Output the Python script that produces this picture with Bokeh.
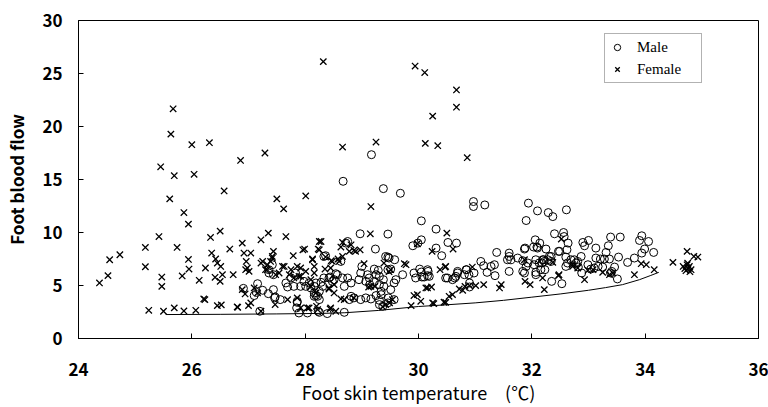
from bokeh.plotting import figure
from bokeh.models import Legend, LegendItem, FixedTicker
from bokeh.embed import file_html
from bokeh.resources import INLINE

# ---- data ----
male_x = [29.17, 28.67, 29.38, 29.68, 30.97, 30.97, 31.17, 31.94, 32.10, 31.90, 30.05, 30.31, 28.97, 29.46,
          29.24, 29.90, 29.99, 30.05, 30.52, 30.67, 30.31, 30.41, 31.38, 31.60, 31.60, 31.88, 32.06, 32.09,
          28.33, 28.75, 28.63, 29.00, 29.46, 29.58, 29.46, 29.51, 29.92, 30.05, 30.17, 29.95, 30.10, 30.19,
          30.51, 30.64, 30.69, 30.81, 30.85, 31.10, 31.15, 31.28, 31.34, 31.35, 31.21, 30.89, 30.98, 31.63,
          31.75, 31.84, 31.93, 31.90, 32.07, 32.13, 31.60, 31.84, 32.07,
          29.39, 29.51, 29.57, 29.34, 29.47, 29.57, 29.46, 29.31, 29.37, 28.81, 28.86, 29.07, 29.16, 28.98,
          28.78, 29.22, 29.13, 28.95, 28.98, 29.10, 29.25, 29.29, 28.75, 28.81, 28.69, 28.57, 28.51, 28.44,
          28.33, 28.28, 28.25, 28.19, 28.25, 28.16, 28.07, 27.98, 28.01, 28.04, 28.25, 28.39, 28.69, 27.89,
          26.91, 27.16, 27.25, 27.44, 27.36, 27.44, 27.56, 27.47, 27.20, 27.66, 27.69, 27.80, 27.86, 27.85,
          27.92, 28.10, 28.16, 27.75, 27.83, 28.23, 28.19, 27.14, 27.10, 27.35, 27.46, 27.36, 27.42, 27.86,
          29.42, 29.22, 29.31, 29.38, 29.31, 29.14, 29.07, 28.54, 28.48, 28.66, 28.31, 28.42, 28.22, 28.16,
          29.25, 29.34, 29.31, 29.60, 29.72, 30.02, 30.16, 30.16, 30.06, 29.48, 28.36, 28.72,
          32.29, 32.37, 32.61, 32.40, 32.56, 32.14, 32.03, 32.10, 32.25, 31.87, 32.64, 32.62, 32.47, 32.31,
          32.21, 32.18, 32.90, 33.00, 32.93, 33.13, 33.35, 33.39, 33.56, 33.31, 33.37, 33.53, 33.13, 33.21,
          33.28, 33.94, 33.90, 34.06, 33.99, 33.94, 34.15, 33.81, 33.69, 32.60, 32.75, 32.87, 32.63, 32.78,
          32.82, 32.88, 33.04, 33.10, 33.17, 33.25, 33.41, 33.51, 33.39, 33.46, 32.35, 32.53, 32.23, 32.28,
          32.57, 31.57, 30.69, 30.66, 30.84, 30.48, 30.60, 30.90, 30.90, 32.04, 32.07, 31.87, 32.16, 32.22,
          32.34, 32.34, 32.19, 32.49, 32.69, 32.81, 32.99, 32.60]
male_y = [17.34, 14.83, 14.14, 13.70, 12.92, 12.45, 12.60, 12.77, 12.04, 11.13, 11.10, 10.32, 9.88, 9.85,
          8.44, 8.75, 9.00, 9.31, 9.06, 9.00, 8.53, 7.81, 8.12, 8.06, 7.74, 8.53, 9.31, 8.63,
          7.74, 9.15, 7.27, 6.80, 7.68, 7.43, 6.49, 6.55, 6.18, 6.27, 6.33, 5.71, 5.80, 5.86,
          5.71, 5.71, 6.18, 6.02, 6.49, 7.27, 6.87, 6.80, 6.96, 5.93, 6.24, 6.02, 6.18, 7.43,
          7.59, 7.34, 7.12, 6.80, 7.43, 7.12, 6.33, 6.33, 6.24,
          4.92, 4.61, 5.24, 4.14, 3.83, 3.67, 3.36, 3.20, 3.04, 3.98, 3.83, 3.83, 3.73, 3.67,
          3.67, 5.39, 5.71, 5.55, 6.18, 6.02, 6.02, 6.43, 5.71, 5.24, 4.92, 6.02, 5.55, 5.80,
          5.71, 5.30, 4.45, 4.05, 3.67, 4.92, 5.24, 5.39, 4.92, 2.41, 2.47, 2.35, 2.47, 2.41,
          4.73, 5.17, 4.55, 4.61, 6.18, 6.02, 3.67, 3.92, 2.57, 5.24, 4.86, 4.92, 3.41, 2.89,
          4.92, 4.77, 3.98, 5.71, 6.18, 2.57, 5.24, 4.36, 4.05, 4.23, 3.83, 6.49, 6.96, 3.51,
          7.74, 6.55, 5.86, 5.55, 5.08, 5.08, 5.39, 6.11, 5.39, 5.71, 4.92, 5.71, 3.98, 4.30,
          4.05, 4.45, 3.60, 5.55, 6.02, 6.55, 6.49, 5.93, 5.80, 7.59, 7.81, 9.00,
          11.88, 11.50, 12.14, 9.88, 10.00, 9.00, 8.63, 8.53, 8.44, 8.44, 9.00, 8.37, 8.22, 7.74,
          7.43, 7.12, 9.06, 9.25, 8.75, 8.53, 8.75, 9.57, 9.57, 8.12, 7.50, 7.68, 7.59, 7.50,
          7.50, 9.69, 9.25, 9.15, 8.44, 8.06, 8.12, 7.59, 7.18, 7.68, 7.43, 7.74, 7.12, 7.12,
          6.74, 6.18, 6.55, 6.65, 6.80, 6.74, 6.33, 5.62, 6.18, 6.74, 5.39, 5.17, 6.49, 7.43,
          9.62, 7.43, 6.33, 5.86, 6.49, 5.71, 5.55, 5.24, 4.86, 6.96, 6.02, 6.18, 6.49, 7.27,
          7.74, 7.27, 7.43, 8.22, 7.43, 7.27, 6.96, 6.80]

female_x = [25.67, 25.63, 26.00, 26.31, 25.45, 26.86, 27.29, 28.32, 29.94, 30.11, 30.67, 30.67, 30.25, 28.66,
            29.25, 30.12, 30.34, 30.86, 28.01, 25.69, 26.04, 26.57, 25.61, 27.50, 27.62, 25.86, 25.94, 29.16,
            25.42, 26.33, 26.50, 26.89, 27.22, 27.35, 27.66, 29.15, 30.50,
            24.55, 24.73, 24.37, 24.52, 25.18, 25.18, 25.47, 25.47, 25.74, 25.94, 25.95, 25.83, 26.13, 26.24,
            26.35, 26.42, 26.45, 26.51, 26.41, 26.50, 26.54, 26.67, 26.73, 26.23, 25.24, 25.50, 25.69, 25.86,
            26.07, 26.45, 26.52, 26.81, 27.00, 26.92, 26.96, 27.04, 26.95, 27.22, 27.44, 27.42, 27.39, 27.30,
            27.79, 27.60, 27.99, 28.23, 28.25, 26.94, 27.10, 27.47, 27.69, 27.22, 27.92, 28.13, 28.16, 28.10,
            28.22, 26.98, 27.01, 27.25, 27.33, 27.42, 27.33, 27.48, 27.54, 27.63, 27.75, 27.86, 27.72, 27.80,
            27.89, 26.89, 27.16, 27.04, 26.80, 26.21, 27.86,
            28.28, 28.25, 28.36, 28.66, 28.81, 28.86, 28.97, 28.63, 28.66, 28.46, 28.58, 28.13, 28.16, 29.04,
            29.39, 29.48, 29.78, 30.47, 30.38, 30.95, 30.82, 30.90, 31.01, 31.15, 31.46, 31.43, 31.88, 31.97,
            29.92, 30.04, 29.87, 30.16, 30.23, 30.27, 30.48, 30.54, 30.60, 29.16, 29.23, 28.10, 28.19, 28.42,
            28.51, 28.04, 28.20, 28.44, 28.54, 29.98, 30.61, 30.24, 27.96, 28.78, 28.89, 28.48, 28.60, 28.45,
            28.35, 29.75, 29.51, 28.01, 27.92, 28.42, 28.51, 29.12, 28.63, 28.69, 28.86, 29.37, 29.42, 29.49,
            29.54, 27.92, 28.07, 28.45, 30.25, 29.98, 30.13, 30.48, 30.72, 30.78, 30.45,
            32.22, 32.48, 32.93, 32.52, 32.72, 32.81, 32.99, 32.37, 31.87, 32.72, 33.08, 33.25, 33.37, 33.43,
            32.47, 32.19, 33.93, 34.02, 34.16, 33.81, 34.49, 34.74, 34.86, 34.93, 34.67, 34.78, 34.81, 34.74,
            34.76, 34.72, 34.79, 34.75, 34.70]
female_y = [21.67, 19.28, 18.28, 18.47, 16.20, 16.80, 17.50, 26.12, 25.70, 25.09, 23.45, 21.82, 20.98, 18.06,
            18.53, 18.41, 18.19, 17.06, 13.45, 15.36, 15.49, 13.92, 13.17, 13.17, 12.23, 11.88, 10.79, 12.45,
            9.62, 9.53, 10.13, 9.00, 9.31, 9.94, 9.62, 9.88, 9.94,
            7.43, 7.90, 5.24, 5.93, 8.59, 6.77, 5.80, 4.92, 8.59, 7.46, 6.55, 5.90, 5.49, 6.65,
            8.06, 7.50, 7.12, 6.80, 5.77, 5.39, 6.02, 8.44, 6.02, 3.67, 2.66, 2.57, 2.89, 2.60,
            2.66, 3.10, 3.17, 2.94, 3.10, 8.06, 7.27, 8.06, 6.49, 7.12, 8.22, 7.74, 7.27, 6.49,
            7.81, 6.80, 8.44, 8.44, 9.15, 4.20, 4.77, 3.20, 3.67, 2.57, 6.65, 7.50, 6.18, 5.55,
            2.73, 6.65, 6.33, 7.27, 6.96, 7.59, 6.49, 6.02, 6.18, 6.80, 6.49, 6.80, 6.02, 5.71,
            5.86, 4.61, 4.30, 3.36, 2.98, 3.73, 3.83,
            9.15, 8.37, 7.68, 9.06, 8.84, 8.31, 8.37, 8.63, 7.74, 7.34, 7.50, 7.43, 6.80, 7.06,
            7.12, 6.30, 6.96, 6.74, 6.49, 6.74, 4.92, 4.99, 4.99, 5.08, 5.08, 4.77, 5.39, 5.08,
            4.05, 3.51, 3.10, 4.77, 4.86, 3.29, 3.41, 3.98, 4.14, 4.92, 4.92, 4.92, 4.30, 4.77,
            4.30, 2.89, 3.04, 2.79, 2.57, 8.94, 8.44, 8.22, 8.37, 8.22, 8.22, 7.27, 7.27, 6.65,
            6.55, 7.06, 6.49, 6.33, 5.86, 4.67, 5.08, 4.86, 3.73, 3.67, 3.83, 2.98, 3.20, 3.36,
            3.67, 2.89, 2.89, 2.89, 3.36, 4.14, 4.77, 6.80, 4.67, 4.55, 3.42,
            4.61, 6.02, 5.55, 9.38, 6.96, 6.65, 6.43, 7.18, 7.43, 6.80, 6.49, 6.24, 6.02, 6.18,
            5.93, 5.71, 7.06, 6.96, 6.49, 6.02, 7.18, 8.22, 7.74, 7.68, 6.80, 6.80, 6.49, 6.95,
            6.60, 6.40, 6.30, 7.10, 6.60]

# lower boundary curve
curve_x = [25.54, 26.5, 27.5, 28.3, 28.7, 29.3, 30.0, 30.5, 31.0, 31.5, 32.0, 32.5, 33.0, 33.3, 33.6, 33.9, 34.1, 34.24]
curve_y = [2.26, 2.28, 2.32, 2.37, 2.43, 2.65, 3.02, 3.18, 3.36, 3.60, 3.90, 4.20, 4.55, 4.80, 5.08, 5.55, 5.95, 6.24]

x_ticks = [24, 26, 28, 30, 32, 34, 36]
y_ticks = [0, 5, 10, 15, 20, 25, 30]

p = figure(width=768, height=407, output_backend="svg", toolbar_location=None,
           x_range=(24, 36), y_range=(0, 30),
           min_border_left=78, min_border_right=10, min_border_top=20, min_border_bottom=68)
p.xgrid.visible = False
p.ygrid.visible = False
p.outline_line_color = "black"
p.outline_line_width = 1
p.background_fill_color = "white"
p.border_fill_color = "white"

tick_font = "Noto Sans CJK JP"
for ax in (p.xaxis[0], p.yaxis[0]):
    ax.major_tick_in = 5
    ax.major_tick_out = 0
    ax.minor_tick_line_color = None
    ax.axis_line_color = "black"
    ax.major_tick_line_color = "black"
    ax.major_label_text_font = tick_font
    ax.major_label_text_font_style = "bold"
    ax.major_label_text_font_size = "17px"
    ax.major_label_text_color = "black"
    ax.axis_label_text_font = tick_font
    ax.axis_label_text_color = "black"

p.xaxis[0].ticker = FixedTicker(ticks=x_ticks)
p.yaxis[0].ticker = FixedTicker(ticks=y_ticks)
p.xaxis[0].axis_label = "Foot skin temperature\u3000(\u2103)"
p.xaxis[0].axis_label_text_font_style = "normal"
p.xaxis[0].axis_label_text_font_size = "18px"
p.xaxis[0].major_label_standoff = 24
p.xaxis[0].axis_label_standoff = 0
p.yaxis[0].axis_label = "Foot blood flow"
p.yaxis[0].axis_label_text_font_style = "bold"
p.yaxis[0].axis_label_text_font_size = "17px"
p.yaxis[0].major_label_standoff = 16
p.yaxis[0].axis_label_standoff = 10

p.line(curve_x, curve_y, line_color="black", line_width=1)
r_m = p.scatter(male_x, male_y, marker="circle", size=8, fill_color=None,
                line_color="black", line_width=1)
r_f = p.scatter(female_x, female_y, marker="x", size=9, line_color="black", line_width=1.3)

legend = Legend(items=[LegendItem(label="Male", renderers=[r_m]),
                       LegendItem(label="Female", renderers=[r_f])],
                location=(526, 255))
legend.label_text_font = "Liberation Serif"
legend.label_text_font_size = "15px"
legend.label_text_color = "black"
legend.border_line_color = "#666666"
legend.border_line_width = 1
legend.padding = 4
legend.spacing = 4
legend.margin = 0
legend.glyph_width = 16
legend.glyph_height = 18
legend.label_height = 18
legend.label_width = 60
legend.label_standoff = 12
legend.background_fill_alpha = 1
p.add_layout(legend)

open("out.html", "w").write(file_html(p, INLINE))
